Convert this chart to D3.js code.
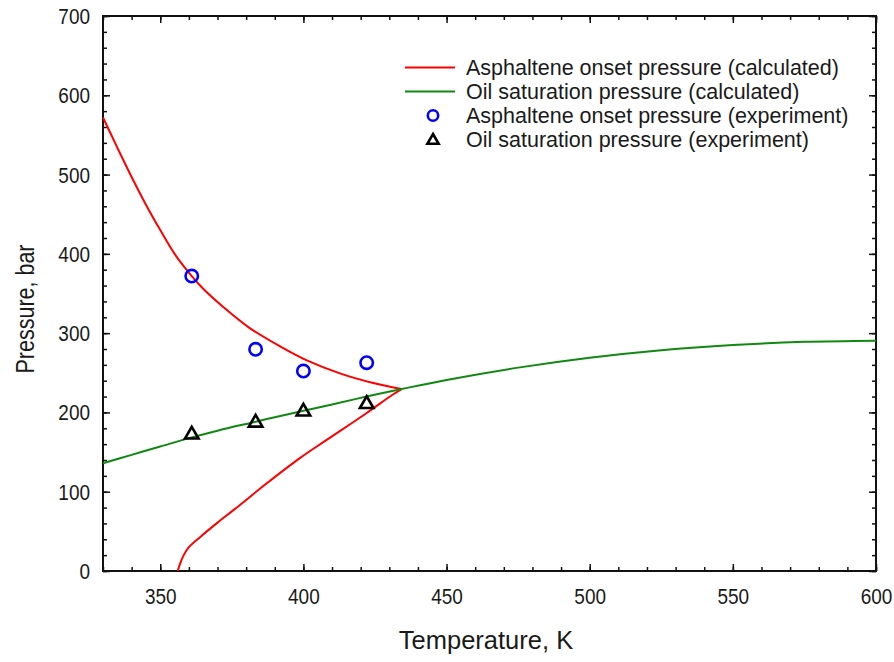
<!DOCTYPE html>
<html>
<head>
<meta charset="utf-8">
<script src="https://cdn.jsdelivr.net/npm/d3@7"></script>
<style>
  body { margin: 0; background: #fff; }
  svg { display: block; font-family: "Liberation Sans", Arial, sans-serif; }
  .tick text { transform-box: fill-box; transform-origin: center; transform: scaleY(1.2); }
</style>
</head>
<body>
<svg id="chart" width="894" height="662"></svg>
<script>
// Asphaltene onset pressure, calculated (upper branch, then lower branch)
const onsetUpperT = [330, 335, 340, 345, 350, 355, 361, 365, 372, 381, 392, 401, 413, 424, 434.3];
const onsetUpperP = [572, 534, 497, 462, 430, 400, 372, 356, 333, 307, 283, 266, 249, 237.5, 229.5];
const onsetLowerT = [356.1, 357, 358.2, 360, 364, 370, 376, 387, 399, 408, 422, 431, 434.3];
const onsetLowerP = [0, 10, 20, 30, 43, 61, 78, 110, 143, 165, 199, 222, 229.5];

// Oil saturation pressure, calculated
const satT = [330, 340, 350, 361, 370, 383, 390, 400, 410, 422, 434.3, 450, 475, 500, 525, 550, 575, 600];
const satP = [136, 146.5, 157, 168.5, 177, 188, 194, 202, 210, 220, 229.5, 241, 256.5, 269, 278.5, 285, 289, 290.5];

// Experimental points
const expT = [361, 383.3, 400, 422.1];
const onsetExpP = [372, 279.6, 252.2, 262.7];
const satExpP = [172, 187, 201, 210.5];

// Axis ticks
const xMajorTicks = [350, 400, 450, 500, 550, 600];
const xMinorTicks = d3.range(330, 601, 10);
const yMajorTicks = [0, 100, 200, 300, 400, 500, 600, 700];
const yMinorTicks = d3.range(0, 701, 20);

const legendLabels = [
  "Asphaltene onset pressure (calculated)",
  "Oil saturation pressure (calculated)",
  "Asphaltene onset pressure (experiment)",
  "Oil saturation pressure (experiment)"
];

const colors = { onset: "#ff0000", sat: "#118811", circle: "#0000ff", tri: "#000000" };

const margin = { left: 103, right: 18, top: 16, bottom: 91 };
const W = 894, H = 662;
const svg = d3.select("#chart");

const x = d3.scaleLinear().domain([330, 600]).range([margin.left, W - margin.right]);
const y = d3.scaleLinear().domain([0, 700]).range([H - margin.bottom, margin.top]);

const x0 = x.range()[0], x1 = x.range()[1], y0 = y.range()[0], y1 = y.range()[1];

// Minor + major ticks, pointing inward on all four sides
function styleAxis(g) {
  g.select(".domain").remove();
  g.selectAll(".tick line").attr("stroke", "#111").attr("stroke-width", 1.5);
}
svg.append("g").attr("transform", `translate(0,${y0})`)
  .call(d3.axisBottom(x).tickValues(xMinorTicks).tickSize(-4).tickFormat(""))
  .call(styleAxis);
svg.append("g").attr("transform", `translate(0,${y1})`)
  .call(d3.axisTop(x).tickValues(xMinorTicks).tickSize(-4).tickFormat(""))
  .call(styleAxis);
svg.append("g").attr("transform", `translate(${x0},0)`)
  .call(d3.axisLeft(y).tickValues(yMinorTicks).tickSize(-4).tickFormat(""))
  .call(styleAxis);
svg.append("g").attr("transform", `translate(${x1},0)`)
  .call(d3.axisRight(y).tickValues(yMinorTicks).tickSize(-4).tickFormat(""))
  .call(styleAxis);

const xAxis = svg.append("g").attr("transform", `translate(0,${y0})`)
  .call(d3.axisBottom(x).tickValues(xMajorTicks).tickSize(-7).tickPadding(18).tickFormat(d3.format("d")))
  .call(styleAxis);
svg.append("g").attr("transform", `translate(0,${y1})`)
  .call(d3.axisTop(x).tickValues(xMajorTicks).tickSize(-7).tickFormat(""))
  .call(styleAxis);
const yAxis = svg.append("g").attr("transform", `translate(${x0},0)`)
  .call(d3.axisLeft(y).tickValues(yMajorTicks).tickSize(-7).tickPadding(13).tickFormat(d3.format("d")))
  .call(styleAxis);
svg.append("g").attr("transform", `translate(${x1},0)`)
  .call(d3.axisRight(y).tickValues(yMajorTicks).tickSize(-7).tickFormat(""))
  .call(styleAxis);

[xAxis, yAxis].forEach(g => g.selectAll(".tick text")
  .attr("font-size", 19).attr("fill", "#1a1a1a")
  .attr("font-family", "'Liberation Sans', Arial, sans-serif"));

// Frame
svg.append("rect")
  .attr("x", x0).attr("y", y1).attr("width", x1 - x0).attr("height", y0 - y1)
  .attr("fill", "none").attr("stroke", "#111").attr("stroke-width", 2);

// Curves
const line = d3.line().x(d => x(d[0])).y(d => y(d[1])).curve(d3.curveCatmullRom.alpha(0.5));
const zip = (a, b) => a.map((v, i) => [v, b[i]]);

svg.append("path").datum(zip(onsetUpperT, onsetUpperP))
  .attr("d", line).attr("fill", "none").attr("stroke", colors.onset).attr("stroke-width", 2);
svg.append("path").datum(zip(onsetLowerT, onsetLowerP))
  .attr("d", line).attr("fill", "none").attr("stroke", colors.onset).attr("stroke-width", 2);
svg.append("path").datum(zip(satT, satP))
  .attr("d", line).attr("fill", "none").attr("stroke", colors.sat).attr("stroke-width", 2);

// Experimental markers
const tri = d3.symbol().type(d3.symbolTriangle).size(80);
svg.append("g").selectAll("path").data(zip(expT, satExpP)).join("path")
  .attr("d", tri)
  .attr("transform", d => `translate(${x(d[0])},${y(d[1])})`)
  .attr("fill", "none").attr("stroke", colors.tri).attr("stroke-width", 2.6)
  .attr("stroke-linejoin", "miter");
svg.append("g").selectAll("circle").data(zip(expT, onsetExpP)).join("circle")
  .attr("cx", d => x(d[0])).attr("cy", d => y(d[1])).attr("r", 6.2)
  .attr("fill", "none").attr("stroke", colors.circle).attr("stroke-width", 2.6);

// Axis titles
svg.append("text")
  .attr("x", 486).attr("y", 649).attr("text-anchor", "middle")
  .attr("font-size", 25.5).attr("fill", "#1a1a1a")
  .text("Temperature, K");
svg.append("text")
  .attr("transform", `translate(34,309) rotate(-90) scale(1,1.2)`)
  .attr("text-anchor", "middle")
  .attr("font-size", 21.5).attr("fill", "#1a1a1a")
  .text("Pressure, bar");

// Legend
const legend = svg.append("g");
const rowY = i => 67.5 + i * 24;
legendLabels.forEach((label, i) => {
  const ry = rowY(i);
  if (i < 2) {
    legend.append("line").attr("x1", 405).attr("x2", 455).attr("y1", ry).attr("y2", ry)
      .attr("stroke", i === 0 ? colors.onset : colors.sat).attr("stroke-width", 2);
  } else if (i === 2) {
    legend.append("circle").attr("cx", 433).attr("cy", ry).attr("r", 5.2)
      .attr("fill", "none").attr("stroke", colors.circle).attr("stroke-width", 2.6);
  } else {
    legend.append("path").attr("d", d3.symbol().type(d3.symbolTriangle).size(55))
      .attr("transform", `translate(433,${ry + 1})`)
      .attr("fill", "none").attr("stroke", colors.tri).attr("stroke-width", 2.6);
  }
  legend.append("text").attr("x", 466).attr("y", ry + 7)
    .attr("font-size", 21.5).attr("fill", "#1a1a1a").text(label);
});
</script>
</body>
</html>
